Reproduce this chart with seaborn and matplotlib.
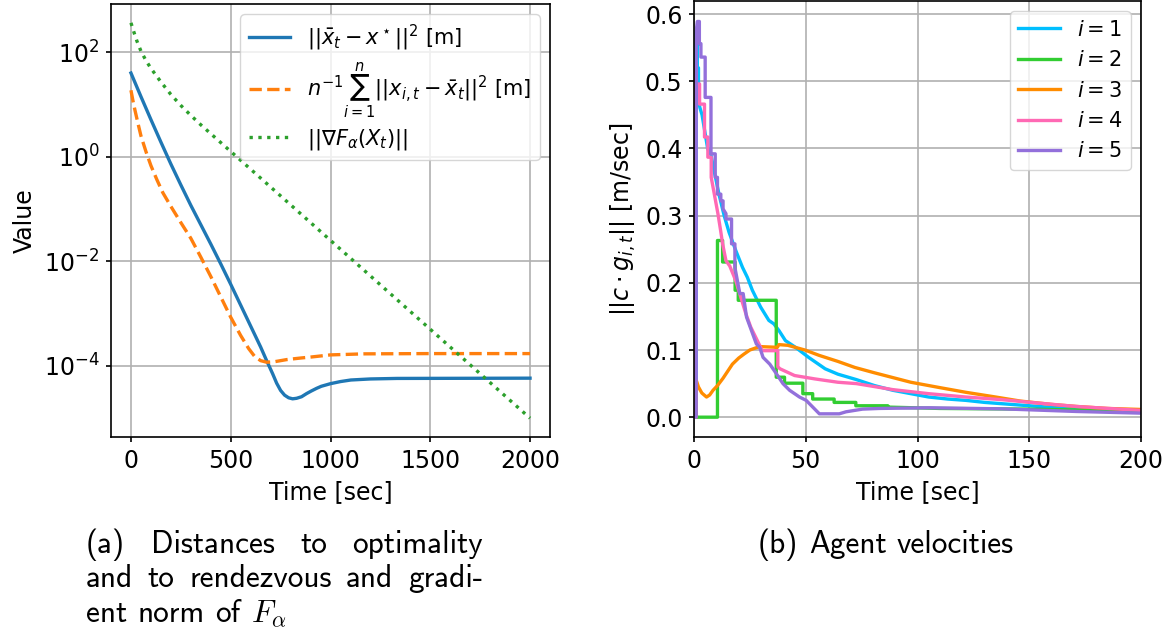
import os
import numpy as np
import pandas as pd
import matplotlib
matplotlib.use("Agg")
import matplotlib.pyplot as plt
from matplotlib.ticker import FixedLocator, NullLocator
from matplotlib.font_manager import FontProperties
import seaborn as sns

# ---------------- data ----------------
# (a) left panel: curves vs time [sec]; values given as log10 exponents
t_opt = [0, 50, 100, 150, 200, 250, 300, 350, 400, 450, 500, 550, 600, 650, 680, 710, 730, 750, 770, 790,
         810, 830, 855, 880, 904, 930, 954, 1000, 1050, 1102, 1200, 1333, 2000]
e_opt = [1.60, 1.15, 0.71, 0.28, -0.14, -0.54, -0.93, -1.30, -1.67, -2.05, -2.44, -2.84, -3.24, -3.64,
         -3.90, -4.15, -4.33, -4.47, -4.56, -4.61, -4.63, -4.62, -4.59, -4.53, -4.48, -4.43, -4.39, -4.34,
         -4.30, -4.27, -4.25, -4.24, -4.235]

t_rdv = [0, 10, 20, 35, 50, 75, 100, 130, 160, 200, 250, 300, 350, 400, 450, 500, 550, 590, 620, 650, 680,
         720, 780, 850, 904, 1000, 1168, 1500, 2000]
e_rdv = [1.27, 1.07, 0.89, 0.64, 0.40, 0.10, -0.17, -0.44, -0.69, -0.95, -1.26, -1.56, -1.92, -2.29, -2.68,
         -3.07, -3.42, -3.67, -3.82, -3.90, -3.93, -3.92, -3.88, -3.85, -3.83, -3.79, -3.77, -3.765, -3.765]

t_grad = [0, 15, 30, 50, 75, 100, 150, 200, 250, 300, 350, 400, 450, 500, 1000, 1500, 2000]
e_grad = [2.56, 2.38, 2.21, 2.02, 1.84, 1.69, 1.43, 1.19, 0.98, 0.79, 0.61, 0.44, 0.27, 0.10, -1.60, -3.30,
          -5.00]

labels_a = [r"$||\bar{x}_t - x^\star||^2$ [m]",
            r"$n^{-1}\sum_{i=1}^{n}||x_{i,t} - \bar{x}_t||^2$ [m]",
            r"$||\nabla F_\alpha(X_t)||$"]

# (b) right panel: agent velocities (explicit jumps are repeated times)
t1 = [0, 1, 1, 1.5, 1.5, 2, 2, 2.7, 3.6, 4.6, 6.1, 7.6, 9.1, 11.3, 13.5, 15.7, 18.7, 21.7, 23.9, 26.1, 29.8,
      33.5, 35.7, 38, 40.9, 45.4, 51.3, 58.7, 64.4, 72.6, 80.8, 89, 97, 105, 113.5, 121.7, 130, 138, 146, 154,
      171, 200]
v1 = [0, 0, 0.575, 0.575, 0.52, 0.52, 0.47, 0.46, 0.45, 0.43, 0.40, 0.39, 0.365, 0.33, 0.30, 0.275, 0.248,
      0.223, 0.208, 0.189, 0.164, 0.144, 0.139, 0.129, 0.114, 0.104, 0.089, 0.072, 0.064, 0.056, 0.047, 0.040,
      0.035, 0.030, 0.027, 0.025, 0.022, 0.020, 0.018, 0.016, 0.012, 0.009]

t2 = [0, 10.5, 10.5, 12.8, 12.8, 18.4, 18.4, 19.8, 19.8, 36.8, 36.8, 40.5, 40.5, 48.7, 48.7, 53.1, 53.1, 62.7,
      62.7, 72.4, 72.4, 86.7, 86.7, 110, 150, 200]
v2 = [0, 0, 0.263, 0.263, 0.231, 0.231, 0.189, 0.189, 0.174, 0.174, 0.0595, 0.0595, 0.0506, 0.0506, 0.035,
      0.035, 0.027, 0.027, 0.022, 0.022, 0.017, 0.017, 0.015, 0.013, 0.012, 0.009]

t3 = [0, 1, 1, 2, 3.5, 5.6, 7, 8.5, 10.5, 13, 15, 17.2, 20, 22.4, 25, 28.4, 30, 37.3, 38, 42, 49.6, 56, 64.4,
      72, 80.8, 97, 110, 121.7, 135, 146, 160, 171, 185, 200]
v3 = [0, 0, 0.055, 0.045, 0.036, 0.030, 0.033, 0.040, 0.047, 0.058, 0.068, 0.079, 0.088, 0.094, 0.100, 0.104,
      0.105, 0.104, 0.108, 0.107, 0.100, 0.092, 0.083, 0.074, 0.066, 0.052, 0.044, 0.037, 0.030, 0.024, 0.019,
      0.016, 0.013, 0.0115]

t4 = [0, 0.5, 0.5, 1.0, 1.0, 2.5, 2.5, 4.7, 4.7, 6.2, 6.2, 7.7, 7.7, 10.7, 11.9, 12.8, 14.3, 16, 18.7, 20.9,
      23.2, 25.4, 27.6, 29.8, 30.5, 37.5, 37.5, 38.5, 45, 54, 64.4, 72.6, 89, 105, 121.7, 138, 154, 171, 200]
v4 = [0, 0, 0.523, 0.523, 0.496, 0.496, 0.466, 0.466, 0.417, 0.417, 0.387, 0.387, 0.357, 0.303, 0.278, 0.258,
      0.233, 0.225, 0.203, 0.179, 0.154, 0.134, 0.119, 0.104, 0.099, 0.099, 0.075, 0.072, 0.062, 0.057, 0.052,
      0.050, 0.041, 0.035, 0.030, 0.026, 0.021, 0.016, 0.010]

t5 = [0, 1, 1, 1.5, 2.4, 2.4, 3.1, 3.1, 5.0, 5.0, 7.6, 7.6, 9.5, 9.5, 10.5, 10.5, 12.0, 12.0, 13, 13, 14.3,
      14.3, 16.8, 16.8, 18.3, 18.3, 20.5, 22.0, 23.5, 25.7, 27.9, 29.4, 30.9, 33.9, 36.8, 39.8, 42.8, 47.2,
      50.2, 56.1, 65, 68, 75.4, 82.9, 105, 138, 171, 200]
v5 = [0, 0, 0.575, 0.589, 0.589, 0.556, 0.556, 0.536, 0.536, 0.476, 0.476, 0.392, 0.392, 0.357, 0.357, 0.332,
      0.332, 0.322, 0.322, 0.31, 0.303, 0.295, 0.295, 0.258, 0.258, 0.223, 0.184, 0.184, 0.149, 0.129, 0.109,
      0.104, 0.089, 0.079, 0.065, 0.050, 0.040, 0.030, 0.025, 0.005, 0.005, 0.008, 0.012, 0.013, 0.014, 0.0124,
      0.0085, 0.006]

agents_t = [t1, t2, t3, t4, t5]
agents_v = [v1, v2, v3, v4, v5]
agent_labels = [r"$i = 1$", r"$i = 2$", r"$i = 3$", r"$i = 4$", r"$i = 5$"]

caption_a_lines = [["(a)", "Distances", "to", "optimality"],
                   ["and", "to", "rendezvous", "and", "gradi-"],
                   ["ent", "norm", "of", "$F_\\alpha$"]]
caption_b_words = ["(b)", "Agent", "velocities"]

# ---------------- styling ----------------
plt.rcParams.update({
    "font.family": ["DejaVu Sans"],
    "font.size": 17,
    "axes.linewidth": 1.2,
    "grid.linewidth": 1.2,
    "xtick.major.size": 3.8, "ytick.major.size": 3.8,
    "xtick.major.width": 1.2, "ytick.major.width": 1.2,
    "xtick.major.pad": 4.7, "ytick.major.pad": 4.5,
    "axes.labelpad": 5.0,
    "legend.fontsize": 15,
})
LW = 2.4
W, H = 1173, 639
fig = plt.figure(figsize=(W / 100, H / 100), dpi=100)

def px_axes(x0, y0, x1, y1):
    return fig.add_axes([x0 / W, 1 - y1 / H, (x1 - x0) / W, (y1 - y0) / H])

ax1 = px_axes(111, 4, 550, 437)
ax2 = px_axes(694, 1, 1141, 437)

# ---------------- panel (a) ----------------
cols_a = ["#1f77b4", "#ff7f0e", "#2ca02c"]
styles_a = ["-", "--", ":"]
for (tt, ee), lab, c, ls in zip([(t_opt, e_opt), (t_rdv, e_rdv), (t_grad, e_grad)], labels_a, cols_a, styles_a):
    df = pd.DataFrame({"t": tt, "v": np.power(10.0, ee)})
    sns.lineplot(data=df, x="t", y="v", ax=ax1, color=c, linestyle=ls, linewidth=LW,
                 label=lab, estimator=None, sort=False)
ax1.set_yscale("log")
ax1.set_ylim(10 ** -5.36, 10 ** 2.92)
ax1.set_xlim(-100, 2100)
ax1.yaxis.set_major_locator(FixedLocator([1e2, 1e0, 1e-2, 1e-4]))
ax1.yaxis.set_minor_locator(NullLocator())
ax1.set_xticks([0, 500, 1000, 1500, 2000])
ax1.grid(True, color="#b0b0b0")
ax1.set_xlabel("Time [sec]")
ax1.set_ylabel("Value")
ax1.legend(loc="upper right", labelspacing=0.35)

# ---------------- panel (b) ----------------
cols_b = ["#00BFFF", "#32CD32", "#FF8C00", "#FF69B4", "#9370DB"]
for tt, vv, lab, c in zip(agents_t, agents_v, agent_labels, cols_b):
    df = pd.DataFrame({"t": tt, "v": vv})
    sns.lineplot(data=df, x="t", y="v", ax=ax2, color=c, linewidth=LW, label=lab,
                 estimator=None, sort=False)
ax2.set_xlim(0, 200)
ax2.set_ylim(-0.0295, 0.6195)
ax2.set_xticks([0, 50, 100, 150, 200])
ax2.set_yticks([0.0, 0.1, 0.2, 0.3, 0.4, 0.5, 0.6])
ax2.grid(True, color="#b0b0b0")
ax2.set_xlabel("Time [sec]")
ax2.set_ylabel(r"$||c\cdot g_{i,t}||$ [m/sec]")
ax2.legend(loc="upper right")

# ---------------- captions (LaTeX-like sans serif) ----------------
CAP_SIZE = 22.5
cmss_path = os.path.join(matplotlib.get_data_path(), "fonts", "ttf", "cmss10.ttf")
fp_cmss = FontProperties(fname=cmss_path, size=CAP_SIZE)
fp_math = FontProperties(family="DejaVu Sans", size=CAP_SIZE, math_fontfamily="cm")
renderer = fig.canvas.get_renderer()
space_px = 0.333 * CAP_SIZE * 100 / 72

def place_words(words, x0, ybase, x1=None):
    texts = []
    for w in words:
        fp = fp_math if w.startswith("$") else fp_cmss
        texts.append(fig.text(0, 1 - ybase / H, w, ha="left", va="baseline", fontproperties=fp))
    widths = [t.get_window_extent(renderer).width for t in texts]
    if x1 is not None and len(words) > 1:
        gap = (x1 - x0 - sum(widths)) / (len(words) - 1)
    else:
        gap = space_px
    x = x0
    for t, w in zip(texts, widths):
        t.set_x(x / W)
        x += w + gap

baselines = [553, 587, 622]
place_words(caption_a_lines[0], 86, baselines[0], 483)
place_words(caption_a_lines[1], 86, baselines[1], 483)
place_words(caption_a_lines[2], 86, baselines[2])
place_words(caption_b_words, 758, 553)

fig.savefig("out.png", dpi=100)
